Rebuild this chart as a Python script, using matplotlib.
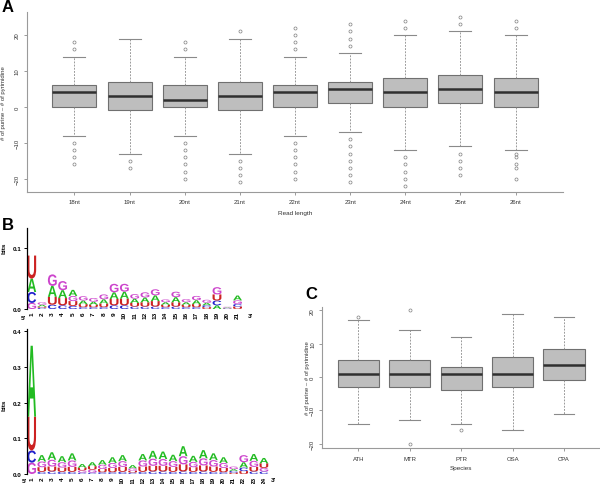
import matplotlib
matplotlib.use('Agg')
import matplotlib.pyplot as plt
from matplotlib.textpath import TextPath
from matplotlib.patches import PathPatch
from matplotlib.font_manager import FontProperties
from matplotlib.transforms import Affine2D

plt.rcParams['font.family'] = ['Liberation Sans', 'DejaVu Sans']

# ---------------- Panel A data ----------------
a_labels = ['18nt', '19nt', '20nt', '21nt', '22nt', '23nt', '24nt', '25nt', '26nt']
a_q1 = [0, -1, 0, -1, 0, 1, 0, 1, 0]
a_med = [4, 3, 2, 3, 4, 5, 4, 5, 4]
a_q3 = [6, 7, 6, 7, 6, 7, 8, 9, 8]
a_whislo = [-8, -13, -8, -13, -8, -7, -12, -11, -12]
a_whishi = [14, 19, 14, 19, 14, 15, 20, 21, 20]
a_fliers = [
    [18, 16, -10, -12, -14, -16],
    [-15, -17],
    [18, 16, -10, -12, -14, -16, -18, -20],
    [21, -15, -17, -19, -21],
    [22, 20, 18, 16, -10, -12, -14, -16, -18, -20],
    [23, 21, 19, 17, -9, -11, -13, -15, -17, -19, -21],
    [24, 22, -14, -16, -18, -20, -22],
    [25, 23, -13, -15, -17, -19],
    [24, 22, -13, -14, -16, -17, -20],
]

# ---------------- Panel C data ----------------
c_labels = ['ATH', 'MTR', 'PTR', 'OSA', 'CPA']
c_q1 = [-3, -3, -4, -3, -1]
c_med = [1, 1, 1, 1, 3.5]
c_q3 = [5, 5, 3, 6, 8.5]
c_whislo = [-14, -13, -14, -16, -11]
c_whishi = [17, 14, 12, 19, 18]
c_fliers = [[18], [20, -20], [-16], [], []]

# ---------------- Panel B data (bits per letter) ----------------
top_A = [0.022, 0.003, 0.018, 0.013, 0.010, 0.006, 0.005, 0.007, 0.011, 0.0115, 0.007,
         0.008, 0.0095, 0.0042, 0.0085, 0.0042, 0.0065, 0.004, 0.006, 0.001, 0.008]
top_C = [0.018, 0.002, 0.007, 0.006, 0.005, 0.003, 0.003, 0.003, 0.006, 0.006, 0.004,
         0.004, 0.004, 0.003, 0.004, 0.003, 0.003, 0.0032, 0.008, 0.0008, 0.0042]
top_G = [0.010, 0.004, 0.019, 0.015, 0.0085, 0.007, 0.006, 0.008, 0.014, 0.013, 0.0075,
         0.0085, 0.010, 0.0045, 0.009, 0.005, 0.007, 0.005, 0.012, 0.0012, 0.006]
top_U = [0.038, 0.002, 0.013, 0.012, 0.008, 0.005, 0.004, 0.006, 0.0105, 0.011, 0.006,
         0.007, 0.009, 0.004, 0.007, 0.004, 0.005, 0.003, 0.010, 0.0006, 0.004]

bot_A = [0.199, 0.018, 0.021, 0.017, 0.020, 0.010, 0.011, 0.013, 0.016, 0.017, 0.009, 0.018,
         0.022, 0.021, 0.018, 0.028, 0.017, 0.023, 0.019, 0.016, 0.005, 0.015, 0.019, 0.015]
bot_C = [0.034, 0.006, 0.007, 0.006, 0.006, 0.004, 0.004, 0.005, 0.005, 0.006, 0.004, 0.006,
         0.007, 0.007, 0.006, 0.007, 0.006, 0.007, 0.006, 0.005, 0.0048, 0.010, 0.007, 0.007]
bot_G = [0.032, 0.016, 0.019, 0.015, 0.018, 0.006, 0.008, 0.012, 0.014, 0.016, 0.007, 0.017,
         0.020, 0.019, 0.016, 0.023, 0.015, 0.020, 0.018, 0.014, 0.007, 0.020, 0.017, 0.010]
bot_U = [0.095, 0.013, 0.014, 0.012, 0.014, 0.008, 0.010, 0.009, 0.012, 0.014, 0.005, 0.015,
         0.016, 0.016, 0.014, 0.020, 0.013, 0.017, 0.015, 0.012, 0.004, 0.008, 0.013, 0.013]

letter_colors = {'A': '#22BB22', 'C': '#2222CC', 'G': '#CC44CC', 'U': '#CC2222'}

W, H = 600, 485
fig = plt.figure(figsize=(6, 4.85), dpi=100)
fig.patch.set_facecolor('white')


def rect(l, t, r, b):
    return [l / W, 1 - b / H, (r - l) / W, (b - t) / H]


def ftext(x, y, s, **kw):
    fig.text(x / W, 1 - y / H, s, **kw)


def boxpanel(ax, labels, q1, med, q3, lo, hi, fliers):
    stats = []
    for i in range(len(labels)):
        stats.append(dict(q1=q1[i], med=med[i], q3=q3[i], whislo=lo[i], whishi=hi[i],
                          fliers=fliers[i], label=labels[i]))
    ax.bxp(stats, widths=0.8, capwidths=0.4, patch_artist=True,
           boxprops=dict(facecolor='#BEBEBE', edgecolor='#707070', linewidth=0.8),
           medianprops=dict(color='#303030', linewidth=1.8),
           whiskerprops=dict(color='#8A8A8A', linestyle=(0, (2.2, 1.6)), linewidth=0.6),
           capprops=dict(color='#8A8A8A', linewidth=0.8),
           flierprops=dict(marker='o', markersize=2.2, markerfacecolor='none',
                           markeredgecolor='#808080', markeredgewidth=0.5))
    for s in ['top', 'right']:
        ax.spines[s].set_visible(False)
    for s in ['left', 'bottom']:
        ax.spines[s].set_color('#9A9A9A')
        ax.spines[s].set_linewidth(0.8)
    ax.tick_params(axis='both', length=2.2, width=0.6, color='#8A8A8A', labelsize=4.3,
                   labelcolor='#333333', pad=3)


# ---------------- Panel A ----------------
axA = fig.add_axes(rect(27, 13, 563, 193))
boxpanel(axA, a_labels, a_q1, a_med, a_q3, a_whislo, a_whishi, a_fliers)
axA.set_xlim(0.14, 9.86)
axA.set_ylim(-23.7, 26.4)
axA.set_yticks([-20, -10, 0, 10, 20])
for t in axA.get_yticklabels():
    t.set_rotation(90)
    t.set_va('center')
ftext(295, 214, 'Read length', fontsize=4.6, color='#333333', ha='center', va='center')
ftext(4, 103, '# of purine \u2013 # of pyrimidine', fontsize=4.3, color='#333333',
      ha='center', va='center', rotation=90)
ftext(2, 8, 'A', fontsize=12, weight='bold', ha='left', va='center')

# ---------------- Panel C ----------------
axC = fig.add_axes(rect(322.3, 307.7, 600, 449.3))
boxpanel(axC, c_labels, c_q1, c_med, c_q3, c_whislo, c_whishi, c_fliers)
axC.set_xlim(0.3, 5.7)
axC.set_ylim(-21.4, 21.1)
axC.set_yticks([-20, -10, 0, 10, 20])
for t in axC.get_yticklabels():
    t.set_rotation(90)
    t.set_va('center')
ftext(461, 469, 'Species', fontsize=4.6, color='#333333', ha='center', va='center')
ftext(307, 378, '# of purine \u2013 # of pyrimidine', fontsize=4.3, color='#333333',
      ha='center', va='center', rotation=90)
ftext(305, 295, 'C', fontsize=12, weight='bold', ha='left', va='center')

# ---------------- Panel B logos ----------------
fp = FontProperties(family=['Liberation Sans', 'DejaVu Sans'], weight='bold')
glyphs = {}
for L in 'ACGU':
    p = TextPath((0, 0), L, size=1, prop=fp)
    glyphs[L] = (p, p.get_extents())


def draw_letter(ax, L, x, y0, h, w=0.86):
    p, ext = glyphs[L]
    tr = (Affine2D().translate(-ext.x0, -ext.y0)
          .scale(w / ext.width, h / ext.height)
          .translate(x - w / 2, y0))
    ax.add_patch(PathPatch(tr.transform_path(p), facecolor=letter_colors[L],
                           edgecolor='none', lw=0))


def logo(ax, A, C, G, U, ymax, yticks):
    n = len(A)
    for i in range(n):
        vals = [('C', C[i]), ('U', U[i]), ('G', G[i]), ('A', A[i])]
        vals = sorted(vals, key=lambda t: t[1])
        y = 0.0
        for L, v in vals:
            draw_letter(ax, L, i + 1, y, v)
            y += v
    ax.set_ylim(0, ymax)
    for s in ['top', 'right', 'bottom']:
        ax.spines[s].set_visible(False)
    ax.spines['left'].set_linewidth(0.9)
    ax.set_yticks(yticks)
    ax.set_yticklabels(['%.1f' % t for t in yticks], fontsize=4.5, weight='bold')
    ax.set_xticks(range(1, n + 1))
    ax.set_xticklabels([str(k) for k in range(1, n + 1)], rotation=90, fontsize=4.6,
                       weight='bold')
    ax.tick_params(axis='y', length=2.5, width=0.7, pad=1.5)
    ax.tick_params(axis='x', length=0, pad=1.5)


axB1 = fig.add_axes(rect(27, 229, 253, 310))
logo(axB1, top_A, top_C, top_G, top_U, 0.1334, [0.0, 0.1])
axB1.set_xlim(0.54, 22.5)
ftext(23, 318, "5'", fontsize=4.6, weight='bold', ha='center', va='center')
ftext(250, 317, "3'", fontsize=4.6, weight='bold', ha='center', va='center')
ftext(4, 248, 'bits', fontsize=4.6, weight='bold', rotation=90, ha='center', va='center')
ftext(2, 225, 'B', fontsize=12, weight='bold', ha='left', va='center')

axB2 = fig.add_axes(rect(27, 330, 274, 475))
logo(axB2, bot_A, bot_C, bot_G, bot_U, 0.407, [0.0, 0.1, 0.2, 0.3, 0.4])
axB2.set_xlim(0.535, 25.0)
ftext(24, 482, "5'", fontsize=4.6, weight='bold', ha='center', va='center')
ftext(273, 481, "3'", fontsize=4.6, weight='bold', ha='center', va='center')
ftext(4, 405, 'bits', fontsize=4.6, weight='bold', rotation=90, ha='center', va='center')

fig.savefig('out.png', dpi=100, facecolor='white')
